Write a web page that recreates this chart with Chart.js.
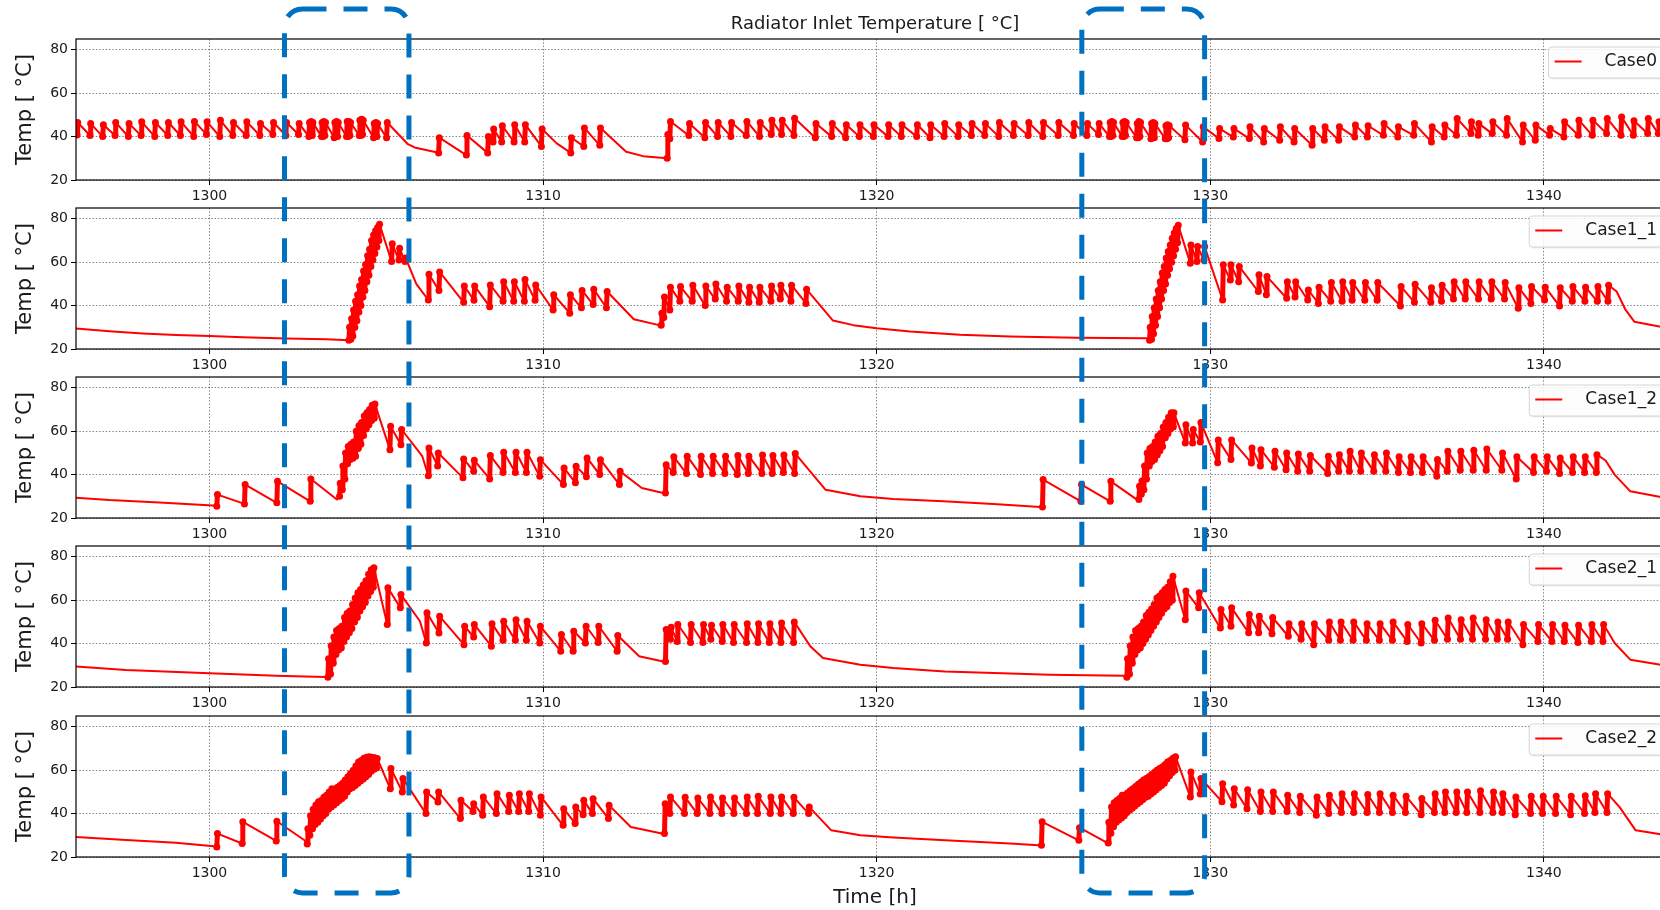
<!DOCTYPE html>
<html>
<head>
<meta charset="utf-8">
<title>Radiator Inlet Temperature</title>
<script src="https://cdn.jsdelivr.net/npm/chart.js@4.4.1/dist/chart.umd.min.js"></script>
<style>
  html, body { margin: 0; padding: 0; background: #fff; overflow: hidden; width: 1660px; height: 910px; }
  #wrap { position: relative; width: 1660px; height: 910px; overflow: hidden; }
  canvas.panel { position: absolute; left: 0; }
  #marks { position: absolute; left: 0; top: 0; pointer-events: none; }
</style>
</head>
<body>
<div id="wrap">
  <canvas class="panel" id="p0" width="1700" height="215" style="top:0px"></canvas>
  <canvas class="panel" id="p1" width="1700" height="215" style="top:169px"></canvas>
  <canvas class="panel" id="p2" width="1700" height="215" style="top:338px"></canvas>
  <canvas class="panel" id="p3" width="1700" height="215" style="top:507px"></canvas>
  <canvas class="panel" id="p4" width="1700" height="233" style="top:677px"></canvas>
  <canvas id="marks" width="1660" height="910"></canvas>
</div>
<script>
// ---- data ----------------------------------------------------------------
const seriesNames = ['Case0', 'Case1_1', 'Case1_2', 'Case2_1', 'Case2_2'];
const timeTicks = [1300, 1310, 1320, 1330, 1340];
const tempTicks = [20, 40, 60, 80];
const timeRange = [1296, 1343.9];
const tempRange = [20, 85];
// heating start-up windows [h]
const highlightWindows = [[1302.25, 1305.98], [1326.15, 1329.83]];

// Rows are either [time, temp] or a switching tooth [time, trough, peak].
const case0 = [
  [1295.95,42.5],
  [1296.03,40.8,46.5],[1296.42,40.5,46],[1296.80,40,45.5],[1297.17,40.5,46.5],[1297.57,40,46],
  [1297.95,40.5,46.8],[1298.36,40,46.5],[1298.75,40.5,46.5],[1299.13,40.5,46.8],[1299.53,40,47],
  [1299.91,41,46.8],[1300.31,40,47.5],[1300.70,40.5,46.5],[1301.10,40.5,46.8],[1301.51,40.5,46],
  [1301.90,41,46.5],[1302.29,40.5,46.5],[1302.67,41,46],
  [1302.98,40,46.5],[1303.03,40.5,47],[1303.08,40.5,46.5],
  [1303.36,40,46.5],[1303.41,40,47],[1303.46,40.5,46.5],
  [1303.74,39.5,46.5],[1303.79,40,47],[1303.84,40,46.5],
  [1304.11,40,47],[1304.16,40,47],[1304.21,40.5,46.5],
  [1304.49,40.5,47.5],[1304.54,40.5,48],[1304.59,41,47.5],
  [1304.92,39.5,46],[1304.97,40,46.5],[1305.02,40,46],
  [1305.31,39.5,46.5],
  [1305.95,36.5],[1306.15,35],[1306.8,32.8],
  [1306.87,32.5,39.5],[1307.70,31.5,40.5],[1308.34,32.5,40],[1308.50,37.5,43.5],[1308.76,37.5,45],
  [1309.13,37.5,45.5],[1309.45,37.5,45.5],[1309.95,35.5,43.5],
  [1310.40,37],
  [1310.83,32.5,39.5],[1311.22,35.5,44],[1311.70,36,44],
  [1312.49,33],[1313.0,31],
  [1313.72,30,41],[1313.80,39,47],
  [1314.37,40.5,46],[1314.85,39.5,46.5],[1315.23,40,46.5],[1315.63,40,46.5],[1316.09,40.5,47],
  [1316.49,40,46.5],[1316.84,41,47.5],[1317.15,41,47.5],[1317.52,40.5,48.5],[1318.16,39.5,46],
  [1318.65,40,46],[1319.07,39.5,45.5],[1319.48,40,45.5],[1319.90,40,45.5],[1320.34,40,45.5],
  [1320.74,40,45.5],[1321.20,40,45.5],[1321.60,39.5,45.5],[1322.02,40,46],[1322.44,40,45.5],
  [1322.84,40.5,46],[1323.24,40.5,46],[1323.66,40,46.5],[1324.10,40.5,46],[1324.54,40.5,46.5],
  [1324.98,40,46.5],[1325.44,40.5,46.5],[1325.90,40.5,46],[1326.30,40.5,46],[1326.65,41,46],
  [1326.98,40,46.5],[1327.03,40,47],[1327.08,40.5,46.5],
  [1327.36,40,46.5],[1327.41,40,47],[1327.46,40.5,46.5],
  [1327.79,39.5,46],[1327.84,39.5,47],[1327.89,40,46.5],
  [1328.22,39,46],[1328.27,39.5,46.5],[1328.32,39.5,46],
  [1328.65,39,45],[1328.70,39,45.5],[1328.75,39.5,45],
  [1329.24,38.5,45.3],[1329.77,37.5,44.5],
  [1330.26,39.1,43.7],[1330.69,39.8,43.7],[1331.17,39.1,44.5],[1331.60,37.5,43.7],[1332.08,38.3,44.5],
  [1332.51,37.5,43.7],[1333.05,36,43.7],[1333.42,38.3,44.5],[1333.85,38.3,44.5],[1334.33,39.8,45.3],
  [1334.71,39.8,45],[1335.19,40.6,46],[1335.62,39.8,44.5],[1336.10,40.6,46],[1336.63,37.5,44.5],
  [1337.01,39.8,45.3],[1337.38,40.6,48.3],[1337.81,41.4,46.8],[1338.03,40.6,46],[1338.45,41.4,46.8],
  [1338.88,40.6,48.3],[1339.36,37.5,45.3],[1339.74,38.3,45.3],[1340.17,40.6,43.7],[1340.60,39.8,46.8],
  [1341.03,40.6,47.6],[1341.45,40.6,47.6],[1341.88,41.4,48.3],[1342.31,40.6,49],[1342.68,40.6,47.3],
  [1343.11,41.4,48.3],[1343.43,41.4,46.8],
  [1343.9,44]
];

const case1_1 = [
  [1295.9,29.6],[1297,28.2],[1298,27.2],[1299,26.5],[1300,26],[1301,25.4],[1302.3,24.8],[1303.5,24.5],
  [1304.18,24,30],[1304.24,24.5,34],[1304.30,26,38],[1304.36,30,42],[1304.42,33,45],[1304.48,37,49],
  [1304.54,40,52],[1304.60,44,56],[1304.66,47,59],[1304.72,51,63],[1304.78,54,66],[1304.84,58,70],
  [1304.90,61,72.5],[1304.96,64,74.5],[1305.02,67,76],[1305.08,70,77.5],
  [1305.46,60.3,68.5],[1305.68,61,66.5],[1305.86,60.3,62],
  [1306.2,50],
  [1306.56,42.6,54.5],[1306.88,47,55.5],
  [1307.62,41.5,49],[1307.93,42.5,49],[1308.40,39.5,49.5],[1308.80,42,51],[1309.12,42,51],
  [1309.44,42,52],[1309.76,42.5,49.5],
  [1310.30,38,45],[1310.80,36.5,45],[1311.15,39,47],[1311.50,40.5,47.5],[1311.90,39,46.5],
  [1312.72,33.7],[1313.48,31],
  [1313.54,31,36.5],[1313.62,34.5,44],[1313.80,38,48.5],
  [1314.10,42,48.8],[1314.47,42,49.4],[1314.86,40,49],[1315.16,43,50],[1315.50,42,48.5],
  [1315.85,42,49],[1316.17,41.5,48.5],[1316.48,41.5,48.5],[1316.83,42,49],[1317.11,43,49.4],
  [1317.43,42,49.4],[1317.88,41,47.5],
  [1318.69,33.1],[1319.3,31],[1320,29.6],[1321,28.1],[1322.5,26.6],[1324,25.8],[1326,25.2],[1328.1,24.9],
  [1328.18,24,30],[1328.24,24.5,35],[1328.30,27,39],[1328.36,31,43],[1328.42,35,47],[1328.48,39,51],
  [1328.54,43,55],[1328.60,47,58],[1328.66,50,62],[1328.72,54,65],[1328.78,57,68],[1328.84,60,71],
  [1328.90,63,73.5],[1328.96,66,75.5],[1329.02,69,77],
  [1329.40,59.5,68],[1329.60,60.3,67.2],[1329.81,61,67.2],
  [1330.37,42.6,58.8],[1330.60,51.8,58.8],[1330.85,51,58],
  [1331.44,46.5,54.2],[1331.68,45,53.4],
  [1332.29,43.4,51],[1332.54,44,51],[1332.92,42.6,47.2],[1333.24,41,48.5],[1333.61,42,50.6],
  [1333.95,42,51],[1334.25,42.5,50.6],[1334.63,42.5,50.6],[1335.00,42.5,50.6],[1335.70,39.8,48.8],
  [1336.12,41.5,49.8],[1336.61,41.5,48.2],[1336.93,42,49.4],[1337.29,43,51],[1337.64,43,51],
  [1338.04,43,51],[1338.42,43,51],[1338.82,43,50.6],[1339.23,38.8,48.2],[1339.61,41,48.8],
  [1340.02,42.6,48.5],[1340.47,39.8,48.2],[1340.85,42,48.8],[1341.23,42,48.5],[1341.60,42,48.8],
  [1341.92,42,49.4],
  [1342.18,46.5],[1342.45,38],[1342.71,32.6],[1343.5,30.3],[1343.9,29.8]
];

const case1_2 = [
  [1295.9,29.5],[1297,28.3],[1298.5,27.2],[1300.1,25.8],
  [1300.22,25.4,30.8],[1301.05,26.5,35.4],[1302.02,27,36.9],[1303.02,27.7,38],
  [1303.82,28.5],
  [1303.90,30,36],[1303.98,33,44],[1304.06,38,50],[1304.14,45,53],[1304.22,47,54],[1304.30,47.5,55],
  [1304.38,48.5,60],[1304.46,52,62.5],[1304.54,54,64],[1304.62,58,67],[1304.70,61,68.5],
  [1304.78,63,70],[1304.86,65,72],[1304.94,66,72.5],
  [1305.41,51.5,62.3],[1305.74,53.8,60.8],
  [1306.38,48.5],
  [1306.56,39.5,52.3],[1306.84,44,50],
  [1307.60,38.5,47.2],[1307.92,41.5,46.6],[1308.40,38,48.8],[1308.80,41,50.3],[1309.17,41,50.3],
  [1309.50,41,50.3],[1309.90,39.2,46.9],
  [1310.61,35.4,43.1],[1310.97,36.2,43.8],[1311.30,39,47.7],[1311.70,40,46.9],
  [1312.29,35.4,41.5],
  [1312.96,33.8],[1313.60,31.5],
  [1313.67,31.5,44.6],[1313.90,41,48.2],
  [1314.30,40.5,48.5],[1314.72,40,48.5],[1315.08,40.5,48.5],[1315.45,40.5,48.5],[1315.82,40,48.8],
  [1316.15,40.5,48.5],[1316.56,40.5,49],[1316.87,40.5,48.8],[1317.20,41,49],[1317.54,40.5,49.7],
  [1318.47,33],[1319.51,30],[1320.5,28.8],[1322,27.7],[1323.5,26.5],[1324.9,25.1],
  [1324.97,25.1,37.7],[1326.12,27.7,35.4],[1327.00,27.7,36.9],
  [1327.80,28.5],
  [1327.86,28.5,34.6],[1327.93,31,37],[1328.01,33,44],[1328.09,38,50],[1328.17,44,52],[1328.25,46,53],
  [1328.33,47,55],[1328.41,49,57.7],[1328.49,51,59],[1328.57,53,62],[1328.65,57,64],[1328.73,59,66.5],
  [1328.81,61,68.5],[1328.89,62,68.5],
  [1329.25,54.6,63],[1329.47,54.6,60.8],[1329.70,55,64],
  [1330.22,45.5,56],[1330.62,47,56],
  [1331.23,45.4,52.3],[1331.50,44,51.5],[1331.92,43.4,50.8],[1332.27,42.3,50],[1332.62,41.5,49.5],
  [1332.98,41.5,48.8],[1333.52,40.5,48.5],[1333.85,41.5,49.2],[1334.17,41.5,50.8],[1334.51,41.5,50],
  [1334.90,41.5,49.2],[1335.26,41.5,50],[1335.64,41,48.2],[1336.00,41,48.2],[1336.36,41,48.2],
  [1336.79,39.2,47],[1337.10,41.5,50.8],[1337.49,42,50.8],[1337.88,42,51.2],[1338.27,42,51.8],
  [1338.74,42,50],[1339.17,38,48.2],[1339.69,41,48.2],[1340.08,41.5,48.2],[1340.47,40.5,47.7],
  [1340.86,41,48.2],[1341.22,41,48.2],[1341.57,41,49.2],
  [1341.85,46.5],[1342.12,40],[1342.59,32.3],[1343.5,29.7],[1343.9,29.2]
];

const case2_1 = [
  [1295.9,29.6],[1297.5,27.8],[1300,26.3],[1302,25.2],[1303.47,24.6],
  [1303.55,24.5,33],[1303.63,26,39],[1303.71,31,43],[1303.79,35,46],[1303.87,37,47],[1303.95,38,48],
  [1304.03,41,52],[1304.11,43,54],[1304.19,45,55],[1304.27,47,58],[1304.35,50,61],[1304.43,52,63.5],
  [1304.51,55,65],[1304.59,57,67],[1304.67,59,69],[1304.75,62,72],[1304.83,64,74],[1304.91,66,75],
  [1305.33,48.8,65.7],[1305.72,56.5,62.6],
  [1306.31,50.3],
  [1306.50,40.3,54.2],[1306.88,44.9,52.6],
  [1307.63,39.5,48],[1307.92,43,48.8],[1308.45,38.8,49.2],[1308.80,41.5,50.3],[1309.17,41.5,51],
  [1309.50,41.5,50.3],[1309.90,40.3,48],
  [1310.53,36.5,44.2],[1310.90,36.5,45.7],[1311.27,40.3,48],[1311.65,40.5,48],
  [1312.22,36.5,43.7],
  [1312.88,34.2],[1313.60,31.8],
  [1313.67,31.8,46.5],[1313.82,42,47.5],
  [1314.02,41,48.8],[1314.42,40.5,48.8],[1314.79,40.5,48.8],[1315.03,42,48.5],[1315.37,41,48.8],
  [1315.71,40.5,48.8],[1316.10,40.5,49.2],[1316.44,40.5,49.2],[1316.78,40.5,49.2],[1317.13,40.5,49.5],
  [1317.51,40.5,50],
  [1318.01,38.8],[1318.39,33.4],[1319.51,30.3],[1320.5,28.8],[1322.05,27.2],[1324,26.2],[1325.18,25.7],[1327.42,25.2],
  [1327.50,24.5,33],[1327.58,26,39],[1327.66,31,43],[1327.74,35,46],[1327.82,37,47],[1327.90,38,48],
  [1327.98,40,50],[1328.06,42,53],[1328.14,44,54.5],[1328.22,46,56],[1328.30,48,58],[1328.38,50,61],
  [1328.46,52,62],[1328.54,54,63.5],[1328.62,56,65],[1328.70,57,66],[1328.78,59,68.5],[1328.86,60,71],
  [1329.25,51,64.2],[1329.65,56.5,63.4],
  [1330.30,47.2,55.7],[1330.62,48,56.5],
  [1331.15,45,53.4],[1331.45,45,52.6],[1331.85,44.5,52],
  [1332.34,43.4,49.2],[1332.72,42,49.2],[1333.10,39.5,49.2],[1333.55,41.5,50],[1333.90,41.5,50],
  [1334.28,41.5,50],[1334.68,41.5,49.2],[1335.07,41.5,49.2],[1335.46,41.5,50],[1335.90,41,48.8],
  [1336.32,40.3,49.2],[1336.72,41.5,50.8],[1337.11,42,51.8],[1337.50,42,51],[1337.86,42,51.8],
  [1338.25,42,51],[1338.60,42,50],[1338.91,42,50],[1339.37,39.5,48.8],[1339.82,41,48.8],
  [1340.24,41,48.8],[1340.61,41,48.5],[1341.02,40.5,48.5],[1341.42,41,48.8],[1341.77,41,48.8],
  [1342.12,40.3],[1342.59,32.6],[1343.5,30.3],[1343.9,29.8]
];

const case2_2 = [
  [1295.9,29.3],[1297.5,27.8],[1299,26.6],[1300.12,25],
  [1300.22,24.6,30.8],[1300.98,26.2,36.2],[1302.00,27.4,36.5],
  [1302.85,27.7],
  [1302.93,26,33],[1303.01,30,39],[1303.09,33,42],[1303.17,35,44],[1303.25,36,45.5],[1303.33,37.5,46],
  [1303.41,39,47.5],[1303.49,40,48.5],[1303.57,42,50],[1303.65,43,51.5],[1303.73,44,51],[1303.81,45,52],
  [1303.89,46,53],[1303.97,47,54],[1304.05,48,55.5],[1304.13,50,57],[1304.21,51.5,58.5],[1304.29,52,60],
  [1304.37,53,62],[1304.45,54,63.8],[1304.53,55,64.5],[1304.61,56,65.5],[1304.69,57,66],[1304.77,58,66.2],
  [1304.85,59.5,66],[1304.93,60.5,65.8],[1305.01,61,65.4],
  [1305.42,51.5,60.8],[1305.78,50,56.2],
  [1306.49,40,50],[1306.85,45.4,50],
  [1307.52,37.7,46.2],[1307.90,41,44.6],[1308.19,39.2,47.7],[1308.60,40,49.2],[1308.97,41,48.5],
  [1309.27,41,49.2],[1309.57,41,49.2],[1309.92,39.2,47.7],
  [1310.60,34.6,42.3],[1310.96,35.5,43],[1311.20,39.5,46.2],[1311.48,40,46.9],
  [1311.96,37.7,43.8],
  [1312.63,33.8],[1313.56,30.8],
  [1313.64,30.8,44.6],[1313.80,40,47.7],
  [1314.24,40,47.5],[1314.62,40,47.2],[1315.00,40,47.7],[1315.36,40,47.2],[1315.72,40,47.2],
  [1316.10,40,47.7],[1316.43,40,48],[1316.81,40,47.7],[1317.13,40,47.7],[1317.50,40,47.5],
  [1317.96,40,43],
  [1318.64,32.3],[1319.51,30],[1320.5,29],[1322.05,27.7],[1324,26.2],[1324.85,25.4],
  [1324.94,25.4,36.2],[1326.06,27.7,33.5],
  [1326.86,27],
  [1326.94,26.5,36],[1327.02,31,43],[1327.10,34,45],[1327.18,36,46],[1327.26,37,47],[1327.34,38,48.5],
  [1327.42,39,48.5],[1327.50,40.5,49.5],[1327.58,41.5,50.5],[1327.66,42.5,51.5],[1327.74,43.5,52.5],
  [1327.82,44.5,53.5],[1327.90,45.5,54.5],[1327.98,46.5,55.5],[1328.06,47.5,56.2],[1328.14,48,57],
  [1328.22,49,58],[1328.30,50,59],[1328.38,51,60],[1328.46,52,60.8],[1328.54,53,61.5],[1328.62,54,62.5],
  [1328.70,56,63.8],[1328.78,57.5,64.5],[1328.86,59,65.5],[1328.94,60,66.2],
  [1329.40,47.7,59.2],[1329.70,49,56.2],
  [1330.35,45.5,53.8],[1330.70,44,51.5],[1331.10,42.3,51],[1331.50,41,50],[1331.87,41,50],
  [1332.30,41,48.5],[1332.68,40.5,48],
  [1333.18,39.2,47.7],[1333.55,40,48.5],[1333.93,40.5,49.2],[1334.30,40.5,49.2],[1334.70,40.5,48.8],
  [1335.07,40.5,49.2],[1335.46,40.5,48.5],[1335.85,40.5,48],[1336.32,39.5,47],[1336.72,40.5,49.2],
  [1337.03,40.5,50],[1337.37,40.5,50],[1337.69,40.5,50],[1338.08,40.5,50.5],[1338.47,40.5,50],
  [1338.75,40.5,49.2],[1339.14,39.5,47.7],[1339.60,40,48],[1339.96,40,48],[1340.35,40,48],
  [1340.80,39.5,48],[1341.22,40,48.2],[1341.53,40.5,49.2],[1341.89,40.5,49.2],
  [1342.27,43],[1342.75,32.3],[1343.5,30.5],[1343.9,30]
];

const seriesData = [case0, case1_1, case1_2, case2_1, case2_2];

// ---- helpers ---------------------------------------------------------------
const RISE = 0.02;          // duration drawn for a switching step [h]
const DENSE_GAP = 0.05;     // samples closer than this are drawn heavier

function expand(rows) {
  const pts = [];
  for (const r of rows) {
    if (r.length === 3) {
      pts.push({ x: r[0], y: r[1] });
      pts.push({ x: r[0] + RISE, y: r[2] });
    } else {
      pts.push({ x: r[0], y: r[1] });
    }
  }
  return pts;
}

function markerRadii(pts) {
  return pts.map((p, i) => {
    const a = i > 0 ? Math.abs(p.x - pts[i - 1].x) : 1;
    const b = i < pts.length - 1 ? Math.abs(pts[i + 1].x - p.x) : 1;
    return Math.min(a, b) < DENSE_GAP ? 3.5 : 0;
  });
}

function roundedPath(g, x, y, w, h, r) {
  g.beginPath();
  g.moveTo(x + r, y);
  g.lineTo(x + w - r, y);
  g.arcTo(x + w, y, x + w, y + r, r);
  g.lineTo(x + w, y + h - r);
  g.arcTo(x + w, y + h, x + w - r, y + h, r);
  g.lineTo(x + r, y + h);
  g.arcTo(x, y + h, x, y + h - r, r);
  g.lineTo(x, y + r);
  g.arcTo(x, y, x + r, y, r);
  g.closePath();
}

// axes box drawn over the lines, like the spines
const axesFrame = {
  id: 'axesFrame',
  afterDatasetsDraw(chart) {
    const { ctx, chartArea: a } = chart;
    ctx.save();
    ctx.strokeStyle = '#000';
    ctx.lineWidth = 1.2;
    ctx.strokeRect(a.left, a.top, a.right - a.left, a.bottom - a.top);
    ctx.restore();
  }
};

// legend box in the upper right corner of each panel
const legendBox = {
  id: 'legendBox',
  afterDatasetsDraw(chart) {
    const { ctx, chartArea: a } = chart;
    const ds = chart.data.datasets[0];
    ctx.save();
    ctx.font = '17px "DejaVu Sans", sans-serif';
    const tw = ctx.measureText(ds.label).width;
    const w = 56 + tw + 8, h = 31;
    const x = a.right - 9 - w, y = a.top + 8;
    roundedPath(ctx, x + 1, y + 1.5, w, h, 3);
    ctx.fillStyle = 'rgba(0,0,0,0.07)';
    ctx.fill();
    roundedPath(ctx, x, y, w, h, 3);
    ctx.fillStyle = 'rgba(255,255,255,0.85)';
    ctx.fill();
    ctx.strokeStyle = '#d4d4d4';
    ctx.lineWidth = 1;
    ctx.stroke();
    ctx.strokeStyle = ds.borderColor;
    ctx.lineWidth = 2;
    ctx.beginPath();
    ctx.moveTo(x + 6, y + 14.5);
    ctx.lineTo(x + 33, y + 14.5);
    ctx.stroke();
    ctx.fillStyle = '#1a1a1a';
    ctx.textBaseline = 'middle';
    ctx.fillText(ds.label, x + 56, y + 15);
    ctx.restore();
  }
};

Chart.defaults.font.family = '"DejaVu Sans", sans-serif';

const gridOpts = {
  color: 'rgba(0,0,0,0.6)',
  lineWidth: 0.8,
  drawTicks: true,
  tickLength: 5,
  tickColor: '#000',
  tickWidth: 1,
  tickBorderDash: []
};
const borderOpts = { display: false, dash: [1.5, 1.8] };

function makePanel(idx) {
  const isFirst = idx === 0;
  const isLast = idx === seriesNames.length - 1;
  const pts = expand(seriesData[idx]);
  return new Chart(document.getElementById('p' + idx), {
    type: 'line',
    data: {
      datasets: [{
        label: seriesNames[idx],
        data: pts,
        borderColor: '#ff0000',
        borderWidth: 2,
        borderJoinStyle: 'round',
        borderCapStyle: 'round',
        pointRadius: markerRadii(pts),
        pointBackgroundColor: '#ff0000',
        pointBorderWidth: 0,
        pointHoverRadius: 0,
        tension: 0,
        fill: false,
        segment: {
          borderWidth: c => Math.abs(c.p1.parsed.x - c.p0.parsed.x) < DENSE_GAP ? 5 : 2
        }
      }]
    },
    options: {
      responsive: false,
      animation: false,
      events: [],
      parsing: false,
      normalized: true,
      layout: { padding: { top: isFirst ? 0 : 39, right: 26, left: 0, bottom: 0 } },
      plugins: {
        legend: { display: false },
        tooltip: { enabled: false },
        title: {
          display: isFirst,
          text: 'Radiator Inlet Temperature [ °C]',
          fullSize: false,
          color: '#1a1a1a',
          font: { size: 18, weight: 'normal' },
          padding: { top: 14, bottom: 3.4 }
        }
      },
      scales: {
        x: {
          type: 'linear',
          min: timeRange[0],
          max: timeRange[1],
          afterBuildTicks: s => { s.ticks = timeTicks.map(v => ({ value: v })); },
          afterFit: s => { s.height = isLast ? 53 : 35; },
          grid: gridOpts,
          border: borderOpts,
          ticks: { color: '#1a1a1a', font: { size: 14 }, padding: 3, maxRotation: 0, autoSkip: false,
                   callback: v => String(v) },
          title: { display: isLast, text: 'Time [h]', color: '#1a1a1a', font: { size: 20 },
                   padding: { top: 0, bottom: 0 } }
        },
        y: {
          type: 'linear',
          min: tempRange[0],
          max: tempRange[1],
          afterBuildTicks: s => { s.ticks = tempTicks.map(v => ({ value: v })); },
          afterFit: s => { s.width = 76; },
          grid: gridOpts,
          border: borderOpts,
          ticks: { color: '#1a1a1a', font: { size: 14 }, padding: 3, callback: v => String(v) },
          title: { display: true, text: 'Temp [ °C]', color: '#1a1a1a', font: { size: 21 },
                   padding: { top: 13, bottom: 0 } }
        }
      }
    },
    plugins: [axesFrame, legendBox]
  });
}

const charts = seriesNames.map((_, i) => makePanel(i));

// dashed rounded frames around the start-up windows, spanning all panels
(function drawWindows() {
  const xs = charts[0].scales.x;
  const g = document.getElementById('marks').getContext('2d');
  g.strokeStyle = '#0070C0';
  g.lineWidth = 5;
  g.setLineDash([24, 17]);
  for (const [t0, t1] of highlightWindows) {
    const x0 = xs.getPixelForValue(t0);
    const x1 = xs.getPixelForValue(t1);
    roundedPath(g, x0, 9, x1 - x0, 884, 18);
    g.stroke();
  }
})();
</script>
</body>
</html>
